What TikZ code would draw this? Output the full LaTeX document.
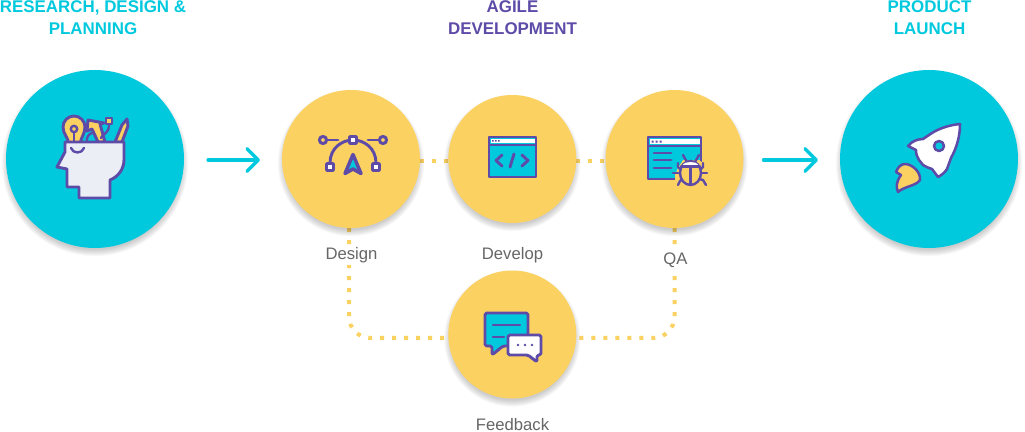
\documentclass[tikz,border=0pt]{standalone}
\usepackage{fontspec}
\setmainfont{Liberation Sans}
\usetikzlibrary{arrows.meta}
\definecolor{aqua}{HTML}{00C9DE}
\definecolor{sun}{HTML}{FBD161}
\definecolor{ink}{HTML}{5E4BA8}
\definecolor{mist}{HTML}{ECEEF5}
\definecolor{label}{HTML}{666666}
\pgfdeclarelayer{under}
\pgfsetlayers{under,main}
\tikzset{
  x=0.75pt,y=-0.75pt,
  disc/.style={circle,inner sep=0pt,outer sep=0pt,minimum size=#1*1.5pt},
  bigdisc/.style={disc=89,fill=aqua},
  smalldisc/.style={disc=#1,fill=sun},
  heading/.style={align=center,font=\fontsize{12.7pt}{16.5pt}\selectfont\bfseries,text=aqua},
  caption/.style={font=\fontsize{12.5pt}{15pt}\selectfont,text=label,fill=white,inner sep=1pt,minimum height=15pt},
  flow/.style={draw=aqua,line width=2.5pt,line cap=round,-{Straight Barb[length=8.5pt,width=17pt,line width=2.5pt,round]}},
  dots/.style={draw=sun,line width=3pt,dash pattern=on 3pt off 6pt,rounded corners=16pt},
  icon/.style={draw=ink,line width=2.2pt,line join=round,line cap=round},
  thin icon/.style={icon,line width=1.8pt},
}
% Soft drop shadow under a disc: #1,#2 centre, #3 radius
\newcommand{\softshadow}[3]{%
  \foreach \s in {1,...,8}{%
    \fill[black,opacity=0.028] (#1,#2+4) circle[radius=(#3+5-\s*0.9)*0.75pt];%
  }%
}
\begin{document}
\begin{tikzpicture}
\useasboundingbox (0,0) rectangle (1025,432);

% Shadows first, then the discs on top of them
\softshadow{95}{159}{89}
\softshadow{929}{159}{89}
\softshadow{351}{159}{69}
\softshadow{512.3}{159}{64}
\softshadow{674.5}{159}{69}
\softshadow{512.3}{334.5}{64}

\node[bigdisc] (research) at (95,159) {};
\node[bigdisc] (launch) at (929,159) {};
\node[smalldisc=69] (design) at (351,159) {};
\node[smalldisc=64] (develop) at (512.3,159) {};
\node[smalldisc=69] (qa) at (674.5,159) {};
\node[smalldisc=64] (feedback) at (512.3,334.5) {};

% Stage headings
\node[heading] (h1) at (93,17.5) {RESEARCH, DESIGN \&\\PLANNING};
\node[heading,text=ink] (h2) at (512.5,17.5) {AGILE\\DEVELOPMENT};
\node[heading] (h3) at (929.5,17.5) {PRODUCT\\LAUNCH};

% Step captions
\node[caption] (c1) at (351.5,255) {Design};
\node[caption] (c2) at (512.5,255) {Develop};
\node[caption] (c3) at (675.5,260) {QA};
\node[caption,minimum height=0pt,inner sep=0pt] (c4) at (512.5,425) {Feedback};

% Connectors
\draw[flow,shorten <=18pt,shorten >=16.5pt] ([yshift=-.75pt]research.east) -- ([yshift=-.75pt]design.west);
\draw[flow,shorten <=15pt,shorten >=16.5pt] ([yshift=-.75pt]qa.east) -- ([yshift=-.75pt]launch.west);
\begin{pgfonlayer}{under}
  \draw[dots] ([yshift=-1.5pt]design.east) -- ([yshift=-1.5pt]develop.west);
  \draw[dots] ([yshift=-1.5pt]develop.east) -- ([yshift=-1.5pt]qa.west);
  \draw[dots] ([xshift=-1.5pt]design.south) |- ([yshift=-2.6pt]feedback.center);
  \draw[dots] (qa.south) |- ([yshift=-2.6pt]feedback.center);
\end{pgfonlayer}

% Head with ideas
\draw[icon,fill=sun] (68.5,143) .. controls (68.5,138) and (63,134) .. (63,127) arc[start angle=180,end angle=360,radius=11] .. controls (85,134) and (80.5,138) .. (80.5,143) -- cycle;
\draw[thin icon,fill=sun] (74,129) circle[radius=3.2];
\draw[thin icon] (74,132) -- (74,142);
\draw[thin icon] (87,142) .. controls (86,137) and (89,134) .. (92,133);
\draw[icon,fill=sun] (105,142) -- (100,124) -- (104,123) -- (88,120) -- (87,131) -- (92,129) -- (98,142) -- cycle;
\draw[thin icon] (101,138) .. controls (102,134) and (109,134) .. (109,125);
\draw[thin icon,fill=sun] (106,118) rectangle (112,124);
\draw[icon,fill=sun] (115,142) -- (122,125) -- (127,119) -- (128,126) -- (122,142) -- cycle;
\draw[icon,fill=mist] (65,142) -- (124,142) -- (124,160) .. controls (124,169) and (118,177) .. (110,180) -- (110,198) -- (79,198) -- (79,187) -- (67,187) -- (67,169) -- (57,167) -- (65,152) -- cycle;
\draw[thin icon] (71,148) .. controls (73,154) and (82,154) .. (84,148);

% Vector path tool
\draw[icon] (330,163) .. controls (330,148) and (342,140) .. (353,140) .. controls (364,140) and (376,148) .. (376,163);
\draw[icon] (327,140) -- (338,140);
\draw[icon] (368,140) -- (379,140);
\draw[icon,fill=sun] (323,140) circle[radius=3.6];
\draw[icon,fill=sun] (383,140) circle[radius=3.6];
\draw[icon,fill=white,rounded corners=.6pt] (349.5,136.5) rectangle (356.5,143.5);
\draw[icon,fill=white,rounded corners=.6pt] (326.5,163.5) rectangle (333.5,170.5);
\draw[icon,fill=white,rounded corners=.6pt] (372.5,163.5) rectangle (379.5,170.5);
\draw[icon,fill=aqua,line width=2.6pt] (353,154.5) -- (361,173.5) -- (353,169) -- (345,173.5) -- cycle;

% Code window
\draw[icon,fill=aqua,line cap=butt] (489,137) rectangle (536,177);
\fill[white] (490.5,139) rectangle (534.5,143);
\draw[thin icon] (489,145) -- (536,145);
\fill[ink] (492,140) rectangle +(1.5,1.5) (495,140) rectangle +(1.5,1.5) (498,140) rectangle +(1.5,1.5);
\draw[icon] (502,155) -- (496,160.5) -- (502,166);
\draw[icon] (522,155) -- (528,160.5) -- (522,166);
\draw[icon] (510,167) -- (514,154);

% Window with a bug
\draw[icon,fill=aqua,line cap=butt] (648,137) rectangle (701,179);
\fill[white] (649.5,139) rectangle (699.5,144);
\draw[thin icon] (648,146) -- (701,146);
\fill[ink] (651.5,140.5) rectangle +(2,2) (655.5,140.5) rectangle +(2,2) (659.5,140.5) rectangle +(2,2);
\draw[icon] (654,153) -- (671,153) (654,160) -- (671,160) (654,168) -- (671,168);
\fill[sun] (675,182) -- (675,175) -- (678,168) -- (683,160) -- (699,160) -- (703,163) -- (703,182) -- cycle;
\draw[thin icon] (683,155) -- (687,162) (699,155) -- (695,162);
\draw[thin icon] (678,163) -- (678,167) -- (681,170) (703,163) -- (703,167) -- (700,170);
\draw[thin icon] (673,173) -- (680,173) (701,173) -- (707,173);
\draw[thin icon] (678,185) -- (680,181) -- (683,179) (706,185) -- (703,180) -- (699,179);
\draw[thin icon,fill=sun] (690.5,173) ellipse[x radius=10.5,y radius=12];
\fill[white] (682,166) .. controls (684,162.5) and (687,162) .. (690.5,162) .. controls (694,162) and (697,162.5) .. (699,166) -- cycle;
\draw[thin icon] (681,166.5) -- (700,166.5) (690.5,166.5) -- (690.5,184);

% Rocket
\draw[icon,fill=white,line width=1.9pt] (960,124) .. controls (950,125) and (940,128) .. (932,133) -- (923,139)
  .. controls (918,139) and (912,141) .. (908,146) -- (916,150) .. controls (916,154) and (917,157) .. (919,160)
  -- (923,165) .. controls (926,167) and (929,168) .. (932,169) -- (938,177) .. controls (942,175) and (945,172) .. (947,169)
  -- (951,158) .. controls (957,147) and (960,136) .. (960,124) -- cycle;
\draw[icon,fill=aqua,line width=1.9pt] (939,146) circle[radius=5];
\draw[icon,fill=sun,line width=1.9pt] (898,192) .. controls (896,187) and (896,182) .. (901,175) -- (896,172)
  .. controls (898,167) and (901,164) .. (905,164) .. controls (912,164) and (921,172) .. (920,180)
  .. controls (916,186) and (905,186) .. (898,192) -- cycle;

% Speech bubbles
\draw[icon,fill=aqua,rounded corners=1.2pt] (485,313) -- (528,313) -- (528,346) -- (503,346) -- (492,355) -- (492,346) -- (485,346) -- cycle;
\draw[thin icon] (493,325) -- (520,325) (493,337) -- (504,337);
\draw[icon,fill=white,rounded corners=1.2pt] (508,335) -- (541,335) -- (541,355) -- (537,355) -- (537,362) -- (528,355) -- (508,355) -- cycle;
\fill[ink] (518,345) circle[radius=1.3] (525,345) circle[radius=1.3] (532,345) circle[radius=1.3];
\end{tikzpicture}
\end{document}
